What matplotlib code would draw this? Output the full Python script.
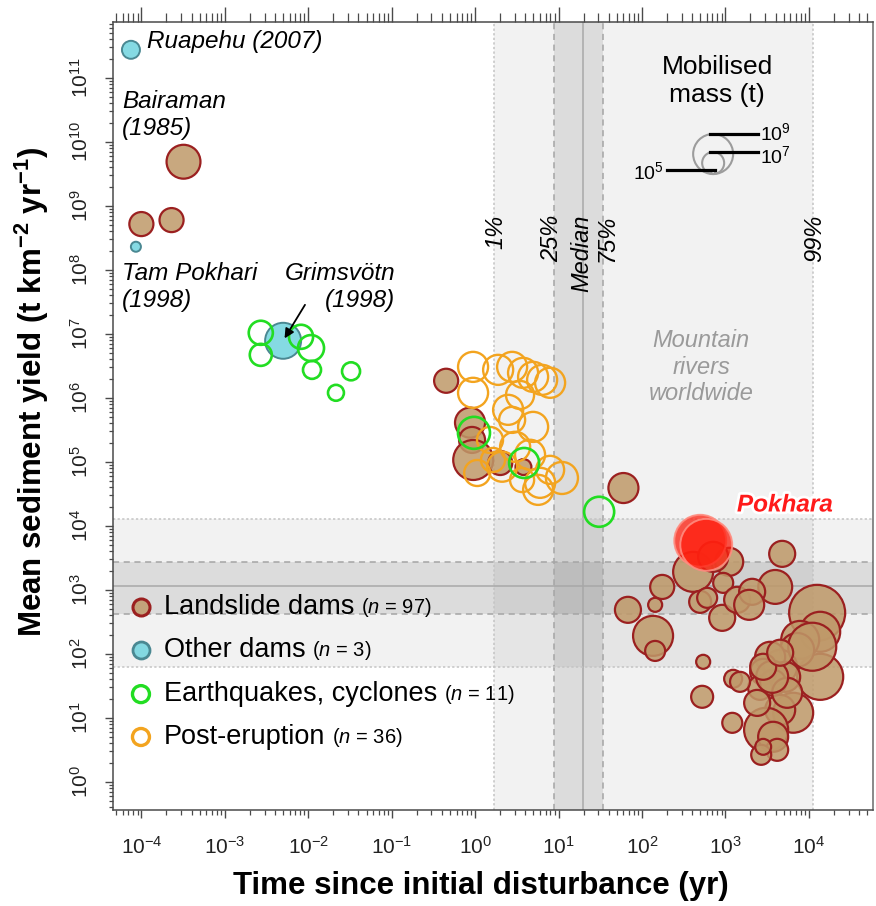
import matplotlib
matplotlib.use("Agg")
import matplotlib.pyplot as plt
import matplotlib.transforms as mtransforms
import matplotlib.patheffects as pe
from matplotlib.lines import Line2D
from matplotlib.ticker import LogLocator, NullFormatter, LogFormatterMathtext, FixedLocator
import numpy as np

plt.rcParams["font.family"] = ["Liberation Sans", "DejaVu Sans"]
plt.rcParams["mathtext.fontset"] = "custom"
plt.rcParams["mathtext.rm"] = "Liberation Sans"
plt.rcParams["mathtext.it"] = "Liberation Sans:italic"
plt.rcParams["mathtext.bf"] = "Liberation Sans:bold"

# ---------------- data ----------------
# Landslide dams: time since disturbance (yr), sediment yield (t km-2 yr-1), mobilised mass (t)
ls_time = [3.2e-4, 1.0e-4, 2.3e-4,
           0.45, 0.87, 0.92, 0.95, 2.0, 3.8, 60,
           411, 1111, 4800, 3960, 175, 144, 68, 499, 942, 916, 1385, 2095, 1930,
           12600, 136, 144, 542, 13700, 7890, 13700, 7260, 4540, 3440, 5210,
           2840, 2610, 3740, 1240, 1500, 527, 6500, 4540, 3080, 3740, 4180,
           2690, 2840, 1210, 2405, 5510, 11000, 3640, 2840, 4540, 714, 605]
ls_yield = [4.9e9, 5.2e8, 6.0e8,
            1.85e6, 4.1e5, 2.2e5, 1.07e5, 9.6e4, 8.3e4, 3.9e4,
            1910, 2740, 3650, 1110, 1110, 583, 487, 649, 1285, 365, 698, 931, 583,
            437, 191, 111, 75, 221, 165, 43.7, 115, 62.7, 89.8, 43.7,
            52.3, 29.4, 35.2, 40.7, 36.5, 21.3, 12.0, 13.3, 6.5, 5.05, 3.16,
            2.64, 3.52, 8.35, 17.1, 24.6, 129, 43.7, 62.7, 104, 3280, 750]
ls_mass = [2.1e8, 1.7e7, 1.7e7,
           1.7e7, 7.8e7, 2.8e7, 1e9, 1.7e7, 2.1e6, 7.8e7,
           1e9, 4.7e7, 2.8e7, 2.1e8, 1.7e7, 1.3e6, 2.8e7, 1e7, 6e6, 2.8e7, 2.8e7, 2.8e7, 7.8e7,
           6e10, 1e9, 6e6, 1.3e6, 1e9, 6e8, 4.7e9, 2.1e8, 2.1e8, 7.8e7, 7.8e7,
           2.8e7, 1.7e7, 2.8e7, 3.6e6, 6e6, 1e7, 1e9, 7.8e7, 2.8e9, 7.8e7, 1e7,
           6e6, 2.1e6, 6e6, 2.8e7, 7.8e7, 7.8e9, 1.3e8, 2.8e7, 2.8e7, 7.8e7, 6e6]

# Other dams (Ruapehu, Tam Pokhari, Grimsvötn)
od_time = [7.5e-5, 8.6e-5, 5.0e-3]
od_yield = [2.75e11, 2.3e8, 7.8e6]
od_mass = [3.6e6, 4.7e5, 3.6e8]

# Earthquakes, cyclones
eq_time = [2.7e-3, 2.7e-3, 8.2e-3, 1.08e-2, 1.11e-2, 3.26e-2, 2.15e-2, 0.97, 3.87, 30.7]
eq_yield = [1.04e7, 4.7e6, 9.0e6, 6.0e6, 2.74e6, 2.6e6, 1.2e6, 2.84e5, 9.6e4, 1.66e4]
eq_mass = [1.7e7, 1e7, 1.7e7, 2.8e7, 3.6e6, 3.6e6, 2.1e6, 1.3e8, 7.8e7, 7.8e7]

# Post-eruption
pe_time = [0.946, 0.946, 1.89, 2.78, 3.76, 4.96, 6.36, 7.93, 2.49, 4.96, 2.78, 3.02,
           1.06, 2.11, 4.56, 6.02, 11.0, 5.7, 1.51, 1.64, 3.46, 7.93, 3.66]
pe_yield = [3.05e6, 1.2e6, 2.74e6, 3.05e6, 2.46e6, 2.13e6, 1.91e6, 1.72e6, 6.5e5, 3.52e5,
            4.53e5, 1.72e5, 6.7e4, 8.4e4, 1.29e5, 4.7e4, 5.6e4, 3.65e4, 2.2e5, 1.07e5,
            1.11e6, 7.5e4, 5.2e4]
pe_mass = [7.8e7, 7.8e7, 7.8e7, 7.8e7, 7.8e7, 7.8e7, 7.8e7, 7.8e7, 7.8e7, 7.8e7,
           2.8e7, 7.8e7, 2.8e7, 7.8e7, 7.8e7, 7.8e7, 1.3e8, 7.8e7, 2.8e7, 1.7e7,
           4.7e7, 4.7e7, 1.7e7]

# Pokhara estimates
pk_time = [500, 590]
pk_yield = [5850, 5050]
pk_mass = [2.1e10, 2.1e10]

# Mountain rivers worldwide: percentiles (1, 25, 50, 75, 99)
river_time_pct = [1.7, 8.9, 19.7, 34.3, 11300]
river_yield_pct = [63, 422, 1150, 2740, 12900]
pct_labels = ["1%", "25%", "Median", "75%", "99%"]
pct_label_nudge = [1, -2, -1, 3, 1]  # points, keeps the crowded labels apart

legend_masses = [1e5, 1e7, 1e9]
legend_mass_labels = [r"10$^{5}$", r"10$^{7}$", r"10$^{9}$"]
legend_label_nudge = [0.0, -0.025, 0.025]  # inches

groups = [("Landslide dams", 97), ("Other dams", 3),
          ("Earthquakes, cyclones", 11), ("Post-eruption", 36)]

x_decades = 10.0 ** np.arange(-4, 5)
y_decades = 10.0 ** np.arange(0, 12)

# ---------------- styling ----------------
DPI = 100
BROWN_FACE = (0.75, 0.60, 0.41, 0.85)
BROWN_EDGE = "#9b2020"
CYAN_FACE = (0.44, 0.83, 0.87, 0.85)
CYAN_EDGE = "#4a8892"
GREEN = "#22dd22"
ORANGE = "#f3a41f"


def radius_px(mass):
    return 4.5 * np.log10(np.asarray(mass, dtype=float)) - 20.5


def marker_area(mass):
    return (2 * radius_px(mass) * 72.0 / DPI) ** 2


fig = plt.figure(figsize=(8.76, 9.06), dpi=DPI)
ax = fig.add_axes([0.129, 0.106, 0.8676, 0.8698])
ax.set_xscale("log")
ax.set_yscale("log")

# ---- reference bands for mountain rivers ----
t1, t25, t50, t75, t99 = river_time_pct
y1, y25, y50, y75, y99 = river_yield_pct
ax.axvspan(t1, t99, color="k", alpha=0.05, lw=0, zorder=0)
ax.axvspan(t25, t75, color="k", alpha=0.09, lw=0, zorder=0)
ax.axhspan(y1, y99, color="k", alpha=0.05, lw=0, zorder=0)
ax.axhspan(y25, y75, color="k", alpha=0.09, lw=0, zorder=0)
for v, ls, c in [(t1, (0, (1.5, 1.5)), "#c4c4c4"), (t99, (0, (1.5, 1.5)), "#c4c4c4"),
                 (t25, (0, (4, 3)), "#a5a5a5"), (t75, (0, (4, 3)), "#a5a5a5"),
                 (t50, "-", "#a8a8a8")]:
    ax.axvline(v, ls=ls, color=c, lw=1.1, zorder=1)
for v, ls, c in [(y1, (0, (1.5, 1.5)), "#c4c4c4"), (y99, (0, (1.5, 1.5)), "#c4c4c4"),
                 (y25, (0, (4, 3)), "#a5a5a5"), (y75, (0, (4, 3)), "#a5a5a5"),
                 (y50, "-", "#a8a8a8")]:
    ax.axhline(v, ls=ls, color=c, lw=1.1, zorder=1)

vlabel_trans = mtransforms.blended_transform_factory(ax.transData, ax.transAxes)
for v, lab, dx in zip(river_time_pct, pct_labels, pct_label_nudge):
    tr = mtransforms.offset_copy(vlabel_trans, fig=fig, x=dx, y=0, units="points")
    ax.text(v, 0.755, lab, transform=tr, rotation=90, ha="center", va="top",
            fontsize=17, style="italic", zorder=2)

ax.text(0.774, 0.562, "Mountain\nrivers\nworldwide", transform=ax.transAxes,
        ha="center", va="center", fontsize=17, style="italic", color="#9a9a9a",
        linespacing=1.2, zorder=2)

# ---- data points ----
ax.scatter(ls_time, ls_yield, s=marker_area(ls_mass), facecolor=BROWN_FACE,
           edgecolor=BROWN_EDGE, lw=1.6, zorder=3)
ax.scatter(pe_time, pe_yield, s=marker_area(pe_mass), facecolor="none",
           edgecolor=ORANGE, lw=1.7, zorder=4)
ax.scatter(od_time, od_yield, s=marker_area(od_mass), facecolor=CYAN_FACE,
           edgecolor=CYAN_EDGE, lw=1.4, zorder=5)
ax.scatter(eq_time, eq_yield, s=marker_area(eq_mass), facecolor="none",
           edgecolor=GREEN, lw=1.9, zorder=6)
ax.scatter(pk_time, pk_yield, s=marker_area(pk_mass), facecolor=(1.0, 0.12, 0.06, 0.75),
           edgecolor=(1.0, 0.55, 0.5, 0.9), lw=1.4, zorder=7)

# ---- annotations ----
ax.text(0.0447, 0.9746, "Ruapehu (2007)", transform=ax.transAxes, ha="left", va="center",
        fontsize=17.5, style="italic")
ax.text(0.0118, 0.9137, "Bairaman\n(1985)", transform=ax.transAxes, ha="left", va="top",
        fontsize=17.5, style="italic", linespacing=1.22)
ax.text(0.0118, 0.6954, "Tam Pokhari\n(1998)", transform=ax.transAxes, ha="left", va="top",
        fontsize=17.5, style="italic", linespacing=1.22)
ax.text(0.371, 0.6954, "Grimsvötn\n(1998)", transform=ax.transAxes, ha="right", va="top",
        multialignment="right", fontsize=17.5, style="italic", linespacing=1.22)
ax.annotate("", xy=(od_time[2], od_yield[2]), xycoords="data",
            xytext=(0.2526, 0.641), textcoords="axes fraction",
            arrowprops=dict(arrowstyle="-|>", color="k", lw=1.3, mutation_scale=14,
                            shrinkA=0, shrinkB=2), zorder=8)
ax.text(0.884, 0.387, "Pokhara", transform=ax.transAxes, ha="center", va="center",
        fontsize=17.5, fontweight="bold", style="italic", color="#ff1a1a", zorder=9,
        path_effects=[pe.withStroke(linewidth=4, foreground="white")])

# ---- mobilised mass key ----
ax.text(0.795, 0.925, "Mobilised\nmass (t)", transform=ax.transAxes, ha="center",
        va="center", fontsize=19, linespacing=1.2)
key_base = mtransforms.blended_transform_factory(ax.transData, ax.transAxes)
key_anchor = fig.dpi_scale_trans + mtransforms.ScaledTranslation(714, 0.807, key_base)
for m, lab, dy in zip(legend_masses, legend_mass_labels, legend_label_nudge):
    r_in = float(radius_px(m)) / DPI
    ax.scatter([0], [r_in], transform=key_anchor, s=marker_area(m), facecolor="none",
               edgecolor="#9c9c9c", lw=1.5, zorder=5, clip_on=False)
    top_y = 2 * r_in
    if m < 1e6:
        xs, tx, ha = [-0.46, 0.02], -0.49, "right"
    else:
        xs, tx, ha = [-0.03, 0.45], 0.47, "left"
    ax.add_line(Line2D(xs, [top_y, top_y], transform=key_anchor, color="k", lw=2.3,
                       zorder=6, clip_on=False))
    ax.text(tx, top_y + dy, lab, transform=key_anchor, ha=ha, va="center_baseline",
            fontsize=14)

# ---- category key ----
key_rows_y = [0.2576, 0.203, 0.147, 0.0926]
key_styles = [dict(facecolor=BROWN_FACE, edgecolor=BROWN_EDGE, lw=2.2),
              dict(facecolor=CYAN_FACE, edgecolor=CYAN_EDGE, lw=2.0),
              dict(facecolor="none", edgecolor=GREEN, lw=2.4),
              dict(facecolor="none", edgecolor=ORANGE, lw=2.4)]
for (name, n), yy, st in zip(groups, key_rows_y, key_styles):
    ax.scatter([0.0368], [yy], transform=ax.transAxes, s=(2 * 8.5 * 0.72) ** 2,
               zorder=6, clip_on=False, **st)
    t = ax.text(0.067, yy, name, transform=ax.transAxes, ha="left", va="center",
                fontsize=19.5, zorder=6)
    ax.annotate(r"($\mathit{n}$ = %d)" % n, xy=(1, 0), xycoords=t,
                xytext=(5, 1), textcoords="offset points", ha="left", va="bottom",
                fontsize=14.5, zorder=6)

# ---- axes ----
ax.set_xlim(10 ** -4.34, 10 ** 4.77)
ax.set_ylim(10 ** -0.44, 10 ** 11.875)
ax.xaxis.set_major_locator(FixedLocator(x_decades))
ax.xaxis.set_minor_locator(LogLocator(base=10, subs=np.arange(2, 10), numticks=20))
ax.yaxis.set_major_locator(FixedLocator(y_decades))
ax.yaxis.set_minor_locator(LogLocator(base=10, subs=np.arange(2, 10), numticks=20))
ax.xaxis.set_major_formatter(LogFormatterMathtext())
ax.yaxis.set_major_formatter(LogFormatterMathtext())
ax.xaxis.set_minor_formatter(NullFormatter())
ax.yaxis.set_minor_formatter(NullFormatter())

for sp in ax.spines.values():
    sp.set_color("#4a4a4a")
    sp.set_linewidth(1.1)
ax.spines["right"].set_color("#6a6a6a")

ax.tick_params(axis="x", which="major", length=5.5, width=1.0, color="#4a4a4a",
               labelsize=15, pad=13, labelcolor="#222222", direction="out")
ax.tick_params(axis="x", which="minor", length=3.8, width=0.9, color="#4a4a4a",
               direction="out")
ax.tick_params(axis="y", which="major", length=5.5, width=1.0, color="#4a4a4a",
               labelsize=15, pad=9.5, labelcolor="#222222", labelrotation=90,
               direction="out")
ax.tick_params(axis="y", which="minor", length=3.2, width=0.9, color="#4a4a4a",
               direction="out")
plt.setp(ax.get_yticklabels(), va="center")

# top ticks drawn on a twin axis
top = ax.twiny()
top.set_xscale("log")
top.set_xlim(ax.get_xlim())
top.xaxis.set_major_locator(FixedLocator(x_decades))
top.xaxis.set_minor_locator(LogLocator(base=10, subs=np.arange(2, 10), numticks=20))
top.xaxis.set_major_formatter(NullFormatter())
top.xaxis.set_minor_formatter(NullFormatter())
top.tick_params(axis="x", which="major", length=11, width=1.0, color="#4a4a4a",
                direction="out")
top.tick_params(axis="x", which="minor", length=6.5, width=0.9, color="#4a4a4a",
                direction="out")
for sp in top.spines.values():
    sp.set_visible(False)

ax.set_xlabel("Time since initial disturbance (yr)", fontsize=22.5, fontweight="bold")
ax.xaxis.set_label_coords(0.484, -0.077)
ax.set_ylabel(r"Mean sediment yield (t km$^{\mathbf{-2}}$ yr$^{\mathbf{-1}}$)",
              fontsize=22.5, fontweight="bold")
ax.yaxis.set_label_coords(-0.0816, 0.530)

fig.savefig("out.png", dpi=DPI)
